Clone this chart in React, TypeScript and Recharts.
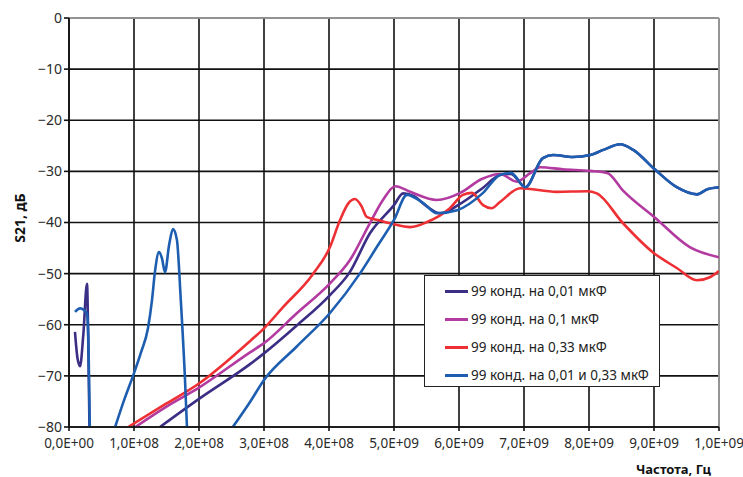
import { LineChart, Line, XAxis, YAxis, CartesianGrid, ReferenceLine } from "recharts";

type Pt = [number, number | null];

// frequency in units of 1E+09 Hz, S21 in dB
const xTicks = [0, 1, 2, 3, 4, 5, 6, 7, 8, 9, 10];
const xTickLabels = [
  "0,0E+00", "1,0E+08", "2,0E+08", "3,0E+08", "4,0E+08", "5,0E+09",
  "6,0E+09", "7,0E+09", "8,0E+09", "9,0E+09", "1,0E+09",
];
const yTicks = [0, -10, -20, -30, -40, -50, -60, -70, -80];

const c001: Pt[] = [
  [0.092, -61.4], [0.13, -66.5], [0.17, -68.1], [0.22, -62], [0.277, -52.0],
  [0.295, -62], [0.315, -80],
  [0.5, null],
  [1.4, -80], [2.0, -74.5], [2.785, -67.7], [3.0, -65.6], [3.5, -60.2],
  [4.015, -54.2], [4.32, -49.7], [4.63, -42.1], [5.0, -36.6], [5.14, -34.3],
  [5.3, -34.8], [5.5, -36.8], [5.71, -38.2], [6.0, -36.5], [6.37, -33.2],
  [6.63, -30.7], [6.8, -30.5], [7.02, -33.1], [7.29, -27.4], [7.45, -26.8],
  [7.75, -27.2], [8.02, -26.8], [8.22, -25.8], [8.48, -24.7], [8.68, -25.8],
  [9.02, -29.7], [9.35, -33.1], [9.66, -34.5], [9.82, -33.5], [10, -33.1],
];

const c01: Pt[] = [
  [1.02, -80], [1.5, -76], [2.0, -72.3], [2.785, -65.4], [3.0, -63.6],
  [3.5, -57.8], [4.015, -51.9], [4.32, -47.4], [4.63, -40.1], [4.83, -35.6],
  [5.02, -32.9], [5.25, -34.0], [5.66, -35.6], [6.02, -34.2], [6.35, -31.5],
  [6.63, -30.5], [6.89, -32.0], [7.1, -30.3], [7.25, -29.2], [7.6, -29.6],
  [8.02, -29.9], [8.28, -30.3], [8.52, -33.7], [9.02, -39.1], [9.55, -44.8],
  [10, -46.8],
];

const c033: Pt[] = [
  [0.91, -80], [1.5, -75.4], [2.0, -71.5], [2.785, -63.2], [3.0, -60.7],
  [3.29, -56.6], [3.74, -50.3], [4.015, -44.8], [4.17, -39.5], [4.3, -36.2],
  [4.4, -35.4], [4.5, -36.8], [4.58, -38.9], [4.75, -39.5], [4.98, -40.3],
  [5.25, -40.9], [5.51, -39.9], [5.86, -37.2], [6.06, -34.6], [6.2, -34.2],
  [6.37, -36.6], [6.5, -37.2], [6.63, -36], [6.94, -33.3], [7.5, -34],
  [7.97, -33.9], [8.12, -34.3], [8.52, -40.1], [8.98, -45.8], [9.35, -48.9],
  [9.66, -51.3], [9.86, -50.7], [10, -49.5],
];

const c001and033: Pt[] = [
  [0.092, -57.5], [0.17, -56.8], [0.23, -57.1], [0.277, -57.9], [0.3, -64],
  [0.32, -80],
  [0.5, null],
  [0.71, -80], [0.846, -74.8], [0.985, -70], [1.108, -65.4], [1.215, -60.7],
  [1.277, -55.2], [1.32, -49.9], [1.385, -45.8], [1.43, -47], [1.477, -49.7],
  [1.54, -44.4], [1.6, -41.3], [1.66, -43.4], [1.72, -55.2], [1.785, -70.8],
  [1.815, -80],
  [2.2, null],
  [2.52, -80], [2.785, -75.1], [3.0, -70.8], [3.5, -64.3], [4.015, -57.7],
  [4.48, -49.9], [4.75, -44.5], [5.0, -39.5], [5.2, -34.6], [5.45, -36.2],
  [5.66, -38.2], [5.97, -37.6], [6.37, -34.2], [6.63, -30.7], [6.8, -30.3],
  [7.02, -33.1], [7.29, -27.4], [7.45, -26.8], [7.75, -27.2], [8.02, -26.8],
  [8.22, -25.8], [8.48, -24.7], [8.68, -25.8], [9.02, -29.7], [9.35, -33.1],
  [9.66, -34.5], [9.82, -33.5], [10, -33.1],
];

const toRows = (pts: Pt[]) => pts.map(([x, y]) => ({ x, y }));

const series = [
  { name: "99 конд. на 0,01 мкФ", color: "#3a2e85", data: toRows(c001) },
  { name: "99 конд. на 0,1 мкФ", color: "#b23aa0", data: toRows(c01) },
  { name: "99 конд. на 0,33 мкФ", color: "#ee3035", data: toRows(c033) },
  { name: "99 конд. на 0,01 и 0,33 мкФ", color: "#1e5eb0", data: toRows(c001and033) },
];

const font = "'Noto Sans', sans-serif";

export default function App() {
  return (
    <div style={{ position: "absolute", left: 0, top: 0, width: 743, height: 477, background: "white", overflow: "hidden" }}>
      <LineChart
        width={743}
        height={477}
        margin={{ top: 18, right: 24, bottom: 18, left: 0 }}
        style={{ fontFamily: font }}
      >
        <CartesianGrid stroke="#111" strokeWidth={1.6} />
        <XAxis
          type="number"
          dataKey="x"
          domain={[0, 10]}
          ticks={xTicks}
          allowDataOverflow
          height={32}
          interval={0}
          tickFormatter={(v: number) => xTickLabels[xTicks.indexOf(v)] ?? ""}
          tick={{ fontSize: 13.5, fill: "#2a2a2a" }}
          tickSize={4}
          tickMargin={7}
          stroke="#111"
          strokeWidth={1.6}
        />
        <YAxis
          type="number"
          domain={[-80, 0]}
          ticks={yTicks}
          allowDataOverflow
          width={69}
          interval={0}
          tickFormatter={(v: number) => String(v).replace("-", "−")}
          tick={{ fontSize: 14, fill: "#2a2a2a" }}
          tickSize={5}
          tickMargin={2}
          stroke="#111"
          strokeWidth={1.6}
        />
        <ReferenceLine y={0} stroke="#aaa" strokeWidth={1.6} />
        <ReferenceLine x={10} stroke="#aaa" strokeWidth={1.6} />
        {series.map((s) => (
          <Line
            key={s.name}
            data={s.data}
            dataKey="y"
            name={s.name}
            type="monotone"
            stroke={s.color}
            strokeWidth={2.6}
            dot={false}
            activeDot={false}
            connectNulls={false}
            isAnimationActive={false}
          />
        ))}
      </LineChart>

      <div
        style={{
          position: "absolute",
          left: 424,
          top: 275,
          width: 236,
          height: 112,
          background: "white",
          border: "1.5px solid #222",
          padding: "1px 0 0 20px",
          boxSizing: "border-box",
          fontFamily: font,
          fontSize: 13.5,
          color: "#222",
        }}
      >
        {series.map((s) => (
          <div key={s.name} style={{ display: "flex", alignItems: "center", height: 28, whiteSpace: "nowrap" }}>
            <span style={{ display: "inline-block", width: 23, height: 3, background: s.color, marginRight: 3 }} />
            <span>{s.name}</span>
          </div>
        ))}
      </div>

      <div
        style={{
          position: "absolute",
          left: 20,
          top: 218,
          transform: "translate(-50%, -50%) rotate(-90deg)",
          fontFamily: font,
          fontWeight: 700,
          fontSize: 14,
          lineHeight: 1,
          color: "#111",
          whiteSpace: "nowrap",
        }}
      >
        S21, дБ
      </div>
      <div
        style={{
          position: "absolute",
          left: 636,
          top: 463,
          fontFamily: font,
          fontWeight: 700,
          fontSize: 13,
          lineHeight: 1,
          color: "#111",
          whiteSpace: "nowrap",
        }}
      >
        Частота, Гц
      </div>
    </div>
  );
}
